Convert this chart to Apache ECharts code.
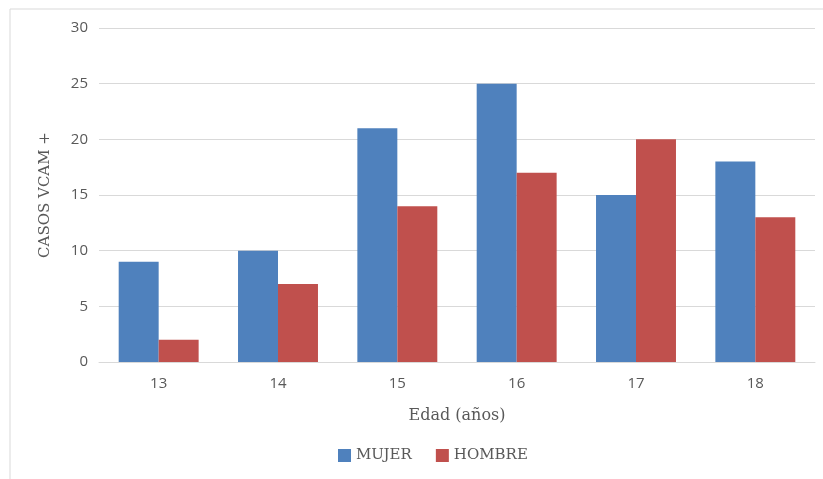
<!DOCTYPE html>
<html>
<head>
<meta charset="utf-8">
<script src="https://cdn.jsdelivr.net/npm/echarts@6/dist/echarts.min.js"></script>
<style>
  html, body { margin: 0; padding: 0; background: #fff; }
  #chart { width: 823px; height: 479px; }
</style>
</head>
<body>
<div id="chart"></div>
<script>
// Ages and case counts by sex
const edades = ['13', '14', '15', '16', '17', '18'];
const mujer = [9, 10, 21, 25, 15, 18];
const hombre = [2, 7, 14, 17, 20, 13];
const yTicks = { min: 0, max: 30, interval: 5 };

const serif = '"DejaVu Serif", "Liberation Serif", serif';
const sans = '"Open Sans", "Noto Sans", sans-serif';
const grayText = '#595959';

const chart = echarts.init(document.getElementById('chart'), null, { renderer: 'canvas' });
chart.setOption({
  animation: false,
  backgroundColor: '#ffffff',
  graphic: [{
    type: 'rect',
    shape: { x: 10, y: 9, width: 830, height: 490 },
    style: { fill: 'none', stroke: '#d9d9d9', lineWidth: 1 },
    silent: true
  }],
  grid: { left: 99, right: 8, top: 28, bottom: 117, containLabel: false },
  legend: {
    data: ['MUJER', 'HOMBRE'],
    bottom: 11,
    left: 333,
    itemWidth: 13,
    itemHeight: 13,
    itemGap: 24,
    icon: 'rect',
    textStyle: { fontFamily: serif, fontSize: 15, color: grayText, padding: [1, 0, 0, 0] }
  },
  xAxis: {
    type: 'category',
    data: edades,
    name: 'Edad (años)',
    nameLocation: 'middle',
    nameGap: 46,
    nameTextStyle: { fontFamily: serif, fontSize: 16, color: grayText },
    axisLine: { lineStyle: { color: '#d9d9d9' } },
    axisTick: { show: false },
    axisLabel: { fontFamily: sans, fontSize: 15, color: grayText, margin: 14 }
  },
  yAxis: {
    type: 'value',
    min: yTicks.min,
    max: yTicks.max,
    interval: yTicks.interval,
    name: 'CASOS VCAM +',
    nameLocation: 'middle',
    nameGap: 46,
    nameTextStyle: { fontFamily: serif, fontSize: 15, color: grayText },
    axisLine: { show: false },
    axisTick: { show: false },
    axisLabel: { fontFamily: sans, fontSize: 15, color: grayText, margin: 11 },
    splitLine: { lineStyle: { color: '#d9d9d9', width: 1 } }
  },
  series: [
    {
      name: 'MUJER',
      type: 'bar',
      data: mujer,
      barWidth: '33.5%',
      barGap: '0%',
      itemStyle: { color: '#4F81BD' }
    },
    {
      name: 'HOMBRE',
      type: 'bar',
      data: hombre,
      barWidth: '33.5%',
      barGap: '0%',
      itemStyle: { color: '#C0504D' }
    }
  ]
});
</script>
</body>
</html>
